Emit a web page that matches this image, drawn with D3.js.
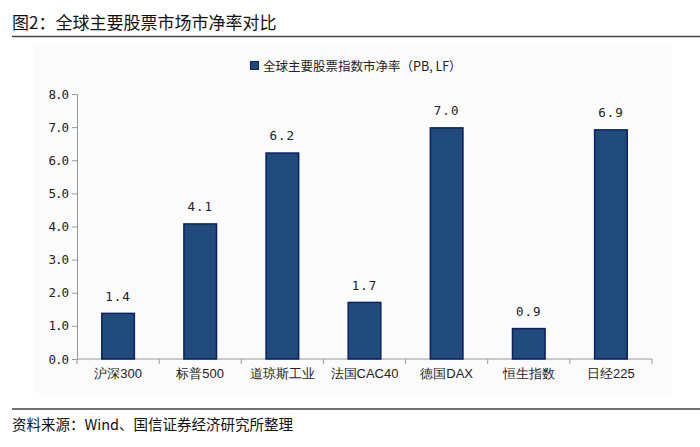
<!DOCTYPE html>
<html><head><meta charset="utf-8">
<script src="https://cdn.jsdelivr.net/npm/d3@7"></script>
<style>
body{margin:0;background:#fff;}
svg{display:block;font-family:"Noto Sans CJK SC","Noto Sans",sans-serif;}
</style></head>
<body>
<svg id="c" width="700" height="447"></svg>
<script>
const categories = ["沪深300","标普500","道琼斯工业","法国CAC40","德国DAX","恒生指数","日经225"];
const values = [1.40, 4.10, 6.24, 1.73, 7.00, 0.94, 6.94];
const yTicks = [0,1,2,3,4,5,6,7,8];
const seriesName = "全球主要股票指数市净率（PB, LF）";
const titleText = "图2：全球主要股票市场市净率对比";
const sourceText = "资料来源：Wind、国信证券经济研究所整理";

const svg = d3.select("#c");
// faint panel
svg.append("rect").attr("x",33).attr("y",45).attr("width",639).attr("height",348).attr("fill","#fbfbfb");

svg.append("text").attr("x",12).attr("y",29).attr("font-size",17).attr("fill","#111").text(titleText);
svg.append("line").attr("x1",12).attr("x2",700).attr("y1",36.5).attr("y2",36.5).attr("stroke","#444").attr("stroke-width",1.5);

const x = d3.scaleBand().domain(categories).range([77,652]).paddingInner(0.585).paddingOuter(0.2925);
const y = d3.scaleLinear().domain([0,8]).range([359,94]);

// legend
svg.append("rect").attr("x",250.5).attr("y",61.5).attr("width",8).attr("height",8).attr("fill","#1f497d").attr("stroke","#0c2466").attr("stroke-width",1);
svg.append("text").attr("x",263).attr("y",70.5).attr("font-size",12.5).attr("fill","#222").text(seriesName);

// y axis
const ya = svg.append("g").attr("transform","translate(77,0)")
  .call(d3.axisLeft(y).tickValues(yTicks).tickFormat(d3.format(".1f")).tickSize(5).tickPadding(4));
ya.select(".domain").attr("stroke","#999");
ya.selectAll(".tick line").attr("stroke","#999");
ya.selectAll(".tick text").attr("font-size",12.5).attr("fill","#222").attr("font-family","'DejaVu Sans Mono','Liberation Mono',monospace").attr("letter-spacing","-1px");

// x axis
const xa = svg.append("g").attr("transform","translate(0,359)")
  .call(d3.axisBottom(x).tickSize(0).tickPadding(10));
xa.select(".domain").attr("stroke","#999").attr("d","M77,0H652");
xa.selectAll(".tick text").attr("font-size",13).attr("fill","#222");
const bounds = categories.map((c,i)=> 77 + i*(575/7)).concat([652]);
xa.selectAll(".bt").data(bounds).join("line").attr("class","bt")
  .attr("x1",d=>d).attr("x2",d=>d).attr("y1",0).attr("y2",5).attr("stroke","#999");

// bars
svg.append("g").selectAll("rect").data(values).join("rect")
  .attr("x",(d,i)=>x(categories[i])+0.75)
  .attr("width",x.bandwidth()-1.5)
  .attr("y",d=>y(d)+0.75)
  .attr("height",d=>y(0)-y(d)-0.75)
  .attr("fill","#214a7d").attr("stroke","#0b2160").attr("stroke-width",1.5);

// value labels
svg.append("g").selectAll("text").data(values).join("text")
  .attr("x",(d,i)=>x(categories[i])+x.bandwidth()/2)
  .attr("y",d=>y(d)-12)
  .attr("text-anchor","middle").attr("font-size",12.5).attr("fill","#222")
  .attr("font-family","'DejaVu Sans Mono','Liberation Mono',monospace").attr("letter-spacing","1px")
  .text(d=>d3.format(".1f")(d));

svg.append("line").attr("x1",12).attr("x2",700).attr("y1",409).attr("y2",409).attr("stroke","#444").attr("stroke-width",1.5);
svg.append("text").attr("x",12).attr("y",430).attr("font-size",14.5).attr("fill","#111").text(sourceText);
</script>
</body></html>
